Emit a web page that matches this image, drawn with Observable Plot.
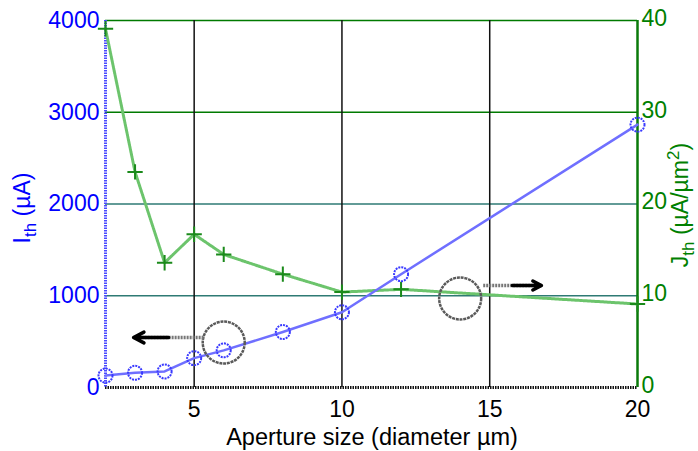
<!DOCTYPE html>
<html>
<head>
<meta charset="utf-8">
<script src="https://cdn.jsdelivr.net/npm/d3@7"></script>
<script src="https://cdn.jsdelivr.net/npm/@observablehq/plot@0.6"></script>
<style>
  html, body { margin: 0; padding: 0; background: #fff; }
  #chart svg { display: block; }
</style>
</head>
<body>
<div id="chart"></div>
<script>
// Data
const aperture = [2, 3, 4, 5, 6, 8, 10, 12, 20];          // diameter (µm)
const ith = [130, 160, 175, 320, 405, 605, 820, 1235, 2865]; // I_th (µA), left axis
const jth = [39.1, 23.5, 13.6, 16.7, 14.5, 12.35, 10.4, 10.7, 9.1]; // J_th (µA/µm²), right axis
const xTicks = [5, 10, 15, 20];
const leftTicks = [0, 1000, 2000, 3000, 4000];
const rightTicks = [0, 10, 20, 30, 40];
const rightScale = 100; // right axis value * 100 = left axis value

// Annotations (data coordinates, left-axis units)
const ovalX = [6, 14];
const ovalY = [490, 970];
const arrowX1 = [5.32, 14.78];
const arrowX2 = [2.95, 16.75];
const arrowY = [545, 1112];

const blueData = aperture.map((a, i) => ({x: a, y: ith[i]}));
const greenData = aperture.map((a, i) => ({x: a, y: jth[i] * rightScale}));
const ovals = ovalX.map((x, i) => ({x, y: ovalY[i]}));
const arrows = arrowX1.map((x1, i) => ({x1, x2: arrowX2[i], y: arrowY[i]}));

const FONT = "Liberation Sans, Arial, sans-serif";
const FS = 23;
const W = 698, H = 451;
const plot = Plot.plot({
  width: W,
  height: H,
  marginLeft: 105,
  marginRight: 61,
  marginTop: 20,
  marginBottom: 64,
  style: {fontFamily: FONT, fontSize: FS + "px", background: "#fff"},
  x: {domain: [2, 20]},
  y: {domain: [0, 4000]},
  marks: [
    // grid
    Plot.ruleY(leftTicks.filter(d => d > 0), {stroke: d => d >= 3000 ? "#007a00" : "#2e7a74", strokeWidth: 1.5}),
    Plot.ruleX(xTicks.filter(d => d < 20), {stroke: "#111", strokeWidth: 1.5}),
    // frame
    Plot.ruleY([0], {stroke: "#111", strokeWidth: 3, strokeDasharray: "1.5,1"}),
    Plot.ruleX([20], {stroke: "#0a7a0a", strokeWidth: 2.5}),
    Plot.ruleX([2], {stroke: "#4a4aff", strokeWidth: 3, strokeDasharray: "1.5,1"}),
    // axes
    Plot.axisX({ticks: xTicks, tickSize: 0, tickPadding: 13, label: null, fill: "#000", fontSize: FS}),
    Plot.axisY({anchor: "left", ticks: leftTicks, tickFormat: d3.format("d"), tickSize: 0, tickPadding: 6, label: null, fill: "#0000ff", fontSize: FS}),
    Plot.axisY({anchor: "right", ticks: rightTicks.map(d => d * rightScale), tickFormat: d => String(d / rightScale), tickSize: 0, tickPadding: 4, dy: -2, label: null, fill: "#008000", fontSize: FS}),
    // green series
    Plot.line(greenData, {x: "x", y: "y", stroke: "#6cc46c", strokeWidth: 3, strokeDasharray: "1.5,1"}),
    Plot.dot(greenData, {x: "x", y: "y", symbol: "plus", r: 5, stroke: "#1b8a1b", strokeWidth: 2}),
    // blue series
    Plot.line(blueData, {x: "x", y: "y", stroke: "#6f6fff", strokeWidth: 2.5}),
    Plot.dot(blueData, {x: "x", y: "y", r: 7, stroke: "#3a3aff", strokeWidth: 2, strokeDasharray: "2,1", fill: "none"}),
    // annotations
    Plot.dot(ovals, {x: "x", y: "y", r: 21, stroke: "#5a5a5a", strokeWidth: 2.5, strokeDasharray: "3,0.8", fill: "none"}),
    Plot.link(arrows, {x1: "x1", x2: "x2", y1: "y", y2: "y", stroke: "#777", strokeWidth: 3.5, strokeDasharray: "2,1"}),
    Plot.arrow(arrows, {x1: d => d.x1 + (d.x2 - d.x1) * 0.5, x2: "x2", y1: "y", y2: "y", stroke: "#000", strokeWidth: 3.5, headLength: 22, headAngle: 55})
  ]
});
document.getElementById("chart").appendChild(plot);

// Axis titles with subscripts/superscripts
const svg = d3.select(plot);
const lt = svg.append("text")
  .attr("transform", "translate(30,208) rotate(-90)")
  .attr("text-anchor", "middle")
  .attr("fill", "#0000ff")
  .style("font-family", FONT)
  .style("font-size", FS + "px");
lt.append("tspan").text("I");
lt.append("tspan").attr("dy", 6).style("font-size", "17px").text("th");
lt.append("tspan").attr("dy", -6).text(" (µA)");

const rt = svg.append("text")
  .attr("transform", "translate(688,205) rotate(-90)")
  .attr("text-anchor", "middle")
  .attr("fill", "#008000")
  .style("font-family", FONT)
  .style("font-size", FS + "px");
rt.append("tspan").text("J");
rt.append("tspan").attr("dy", 6).style("font-size", "17px").text("th");
rt.append("tspan").attr("dy", -6).text(" (µA/µm");
rt.append("tspan").attr("dy", -9).style("font-size", "17px").text("2");
rt.append("tspan").attr("dy", 9).text(")");

svg.append("text")
  .attr("x", 372)
  .attr("y", 445)
  .attr("text-anchor", "middle")
  .attr("fill", "#000")
  .style("font-family", FONT)
  .style("font-size", "23.5px")
  .text("Aperture size (diameter µm)");
</script>
</body>
</html>
